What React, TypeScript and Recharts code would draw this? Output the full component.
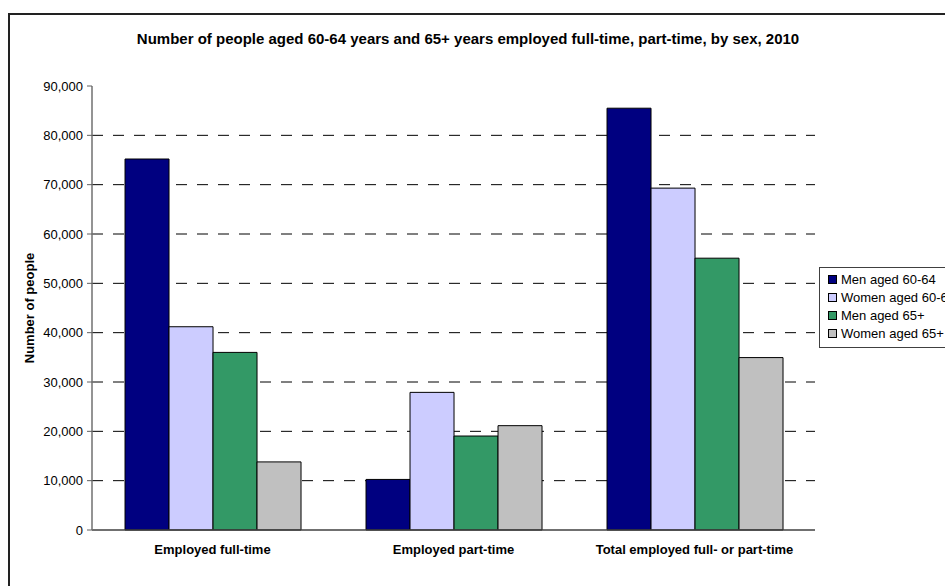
import React from 'react';
import { BarChart, Bar, XAxis, YAxis, CartesianGrid } from 'recharts';

// Employment of older people, 2010 (number of people)
const categories = [
  'Employed full-time',
  'Employed part-time',
  'Total employed full- or part-time',
];
const menAged6064 = [75200, 10250, 85500];
const womenAged6064 = [41200, 27900, 69300];
const menAged65Plus = [36000, 19050, 55100];
const womenAged65Plus = [13800, 21150, 34950];

const seriesNames = ['Men aged 60-64', 'Women aged 60-64', 'Men aged 65+', 'Women aged 65+'];
const yTicks = [0, 10000, 20000, 30000, 40000, 50000, 60000, 70000, 80000, 90000];
const gridValues = yTicks.slice(1, -1);
// category boundaries (0 .. number of categories) for the tick marks between groups
const boundaryTicks = [0, 1, 2, 3];

const title =
  'Number of people aged 60-64 years and 65+ years employed full-time, part-time, by sex, 2010';
const yAxisTitle = 'Number of people';

const seriesKeys = ['m6064', 'w6064', 'm65', 'w65'];
const seriesColors = ['#000080', '#CCCCFF', '#339966', '#C0C0C0'];

const data = categories.map((name, i) => ({
  name,
  m6064: menAged6064[i],
  w6064: womenAged6064[i],
  m65: menAged65Plus[i],
  w65: womenAged65Plus[i],
}));

const FONT = '"Liberation Sans", Arial, Helvetica, sans-serif';

const fmt = (v: number) => v.toLocaleString('en-US');

const YTitle = (props: any) => {
  const vb = props.viewBox || { x: 0, y: 0, width: 0, height: 0 };
  const cx = vb.x + 17;
  const cy = vb.y + vb.height / 2;
  return (
    <text
      x={cx}
      y={cy}
      transform={`rotate(-90, ${cx}, ${cy})`}
      textAnchor="middle"
      dominantBaseline="central"
      fontFamily={FONT}
      fontSize={13}
      fontWeight="bold"
      fill="#000"
    >
      {yAxisTitle}
    </text>
  );
};

export default function App() {
  return (
    <div
      style={{
        position: 'absolute',
        left: 0,
        top: 0,
        width: 945,
        height: 586,
        overflow: 'hidden',
        background: '#fff',
        fontFamily: FONT,
      }}
    >
      {/* chart frame */}
      <div
        style={{
          position: 'absolute',
          left: 8,
          top: 13,
          width: 1200,
          height: 1200,
          borderLeft: '2px solid #222',
          borderTop: '2px solid #222',
        }}
      />
      <div
        style={{
          position: 'absolute',
          left: 0,
          top: 30,
          width: 936,
          textAlign: 'center',
          fontSize: 15,
          lineHeight: '18px',
          fontWeight: 'bold',
          color: '#000',
          whiteSpace: 'nowrap',
        }}
      >
        {title}
      </div>
      <div style={{ position: 'absolute', left: 0, top: 0 }}>
        <BarChart
          width={945}
          height={586}
          data={data}
          margin={{ top: 86, right: 130, bottom: 26, left: 12 }}
          barCategoryGap="13.7%"
          barGap={0}
        >
          <CartesianGrid
            horizontal
            vertical={false}
            horizontalValues={gridValues}
            stroke="#000"
            strokeDasharray="11 10"
          />
          <XAxis
            xAxisId="bounds"
            type="number"
            domain={[0, categories.length]}
            ticks={boundaryTicks}
            height={0}
            tick={false}
            tickSize={4}
            tickLine={{ stroke: '#404040' }}
            axisLine={false}
          />
          <XAxis
            dataKey="name"
            height={30}
            tickLine={false}
            tickSize={5}
            tickMargin={10}
            axisLine={{ stroke: '#404040', strokeWidth: 1.5 }}
            tick={{ fontFamily: FONT, fontSize: 13, fontWeight: 'bold', fill: '#000' }}
            interval={0}
          />
          <XAxis
            xAxisId="top"
            dataKey="name"
            orientation="top"
            height={0}
            tick={false}
            tickLine={false}
            axisLine={{ stroke: '#909090' }}
          />
          <YAxis
            width={80}
            domain={[0, 90000]}
            ticks={yTicks}
            tickFormatter={fmt}
            tickSize={5}
            tickMargin={4}
            tickLine={{ stroke: '#606060' }}
            axisLine={{ stroke: '#707070', strokeWidth: 1.5 }}
            tick={{ fontFamily: FONT, fontSize: 13, fill: '#000' }}
            interval={0}
            label={<YTitle />}
          />
          <YAxis
            yAxisId="right"
            orientation="right"
            width={0}
            domain={[0, 90000]}
            tick={false}
            tickLine={false}
            axisLine={{ stroke: '#909090' }}
          />
          {seriesKeys.map((k, i) => (
            <Bar
              key={k}
              dataKey={k}
              name={seriesNames[i]}
              fill={seriesColors[i]}
              stroke="#000"
              strokeWidth={1}
              isAnimationActive={false}
            />
          ))}
        </BarChart>
      </div>
      {/* legend */}
      <div
        style={{
          position: 'absolute',
          left: 819,
          top: 267,
          width: 160,
          height: 81,
          border: '1px solid #404040',
          background: '#fff',
          boxSizing: 'border-box',
          paddingTop: 2,
        }}
      >
        {seriesNames.map((n, i) => (
          <div
            key={n}
            style={{
              display: 'flex',
              alignItems: 'center',
              height: 18,
              paddingLeft: 8,
              fontSize: 13,
              color: '#000',
              whiteSpace: 'nowrap',
            }}
          >
            <span
              style={{
                display: 'inline-block',
                width: 7,
                height: 7,
                border: '1px solid #000',
                background: seriesColors[i],
                marginRight: 4,
              }}
            />
            {n}
          </div>
        ))}
      </div>
    </div>
  );
}
